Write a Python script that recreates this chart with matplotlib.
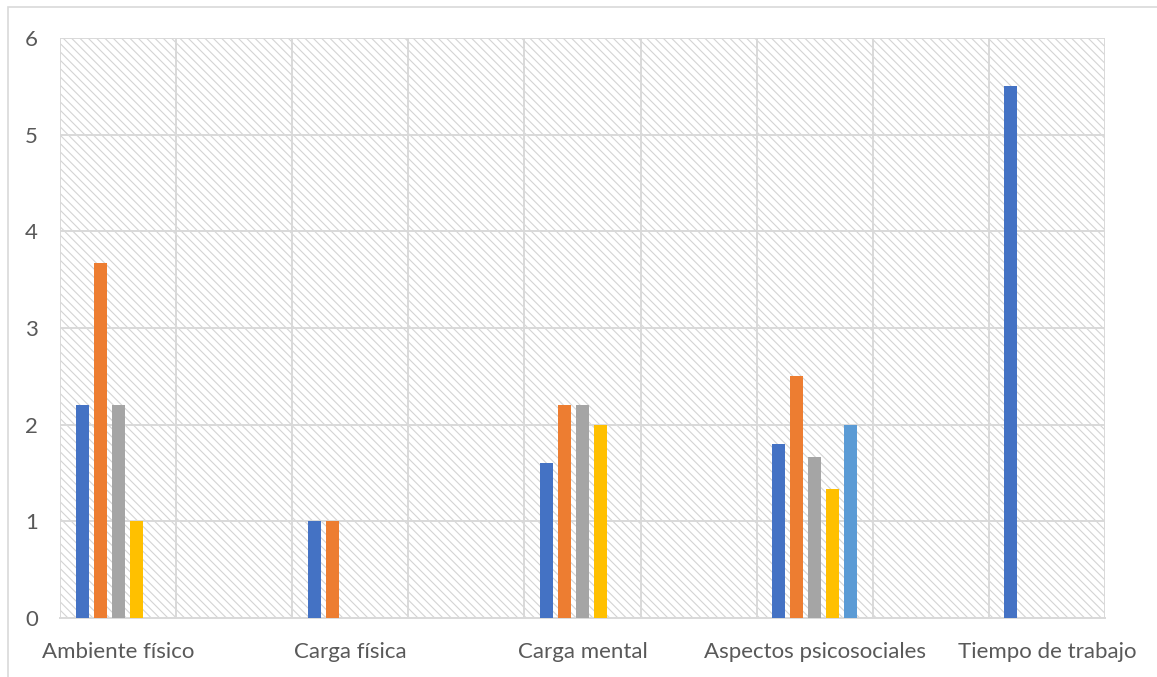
import matplotlib
matplotlib.use("Agg")
import matplotlib.pyplot as plt
from matplotlib.patches import Rectangle
import numpy as np

categories = ["Ambiente físico", "", "Carga física", "", "Carga mental", "",
              "Aspectos psicosociales", "", "Tiempo de trabajo"]
s1 = [2.2, 0, 1.0, 0, 1.6, 0, 1.8, 0, 5.5]
s2 = [3.67, 0, 1.0, 0, 2.2, 0, 2.5, 0, 0]
s3 = [2.2, 0, 0, 0, 2.2, 0, 1.67, 0, 0]
s4 = [1.0, 0, 0, 0, 2.0, 0, 1.33, 0, 0]
s5 = [0, 0, 0, 0, 0, 0, 2.0, 0, 0]
series = [s1, s2, s3, s4, s5]
colors = ["#4472C4", "#ED7D31", "#A5A5A5", "#FFC000", "#5B9BD5"]
yticks = [0, 1, 2, 3, 4, 5, 6]

plt.rcParams['font.family'] = ['Lato', 'DejaVu Sans']
plt.rcParams['hatch.linewidth'] = 0.8

W, H = 1157, 677
fig = plt.figure(figsize=(W/100, H/100), dpi=100)
ax = fig.add_axes([60/W, 1-618/H, (1105-60)/W, (618-38)/H])

# figure border (left and top visible)
fig.patches.append(Rectangle((8/W, -0.2), 1.2, 1.2-7/H, transform=fig.transFigure,
                             fill=False, edgecolor="#d9d9d9", linewidth=1.2))

# hatched plot area
ax.add_patch(Rectangle((0, 0), 1, 1, transform=ax.transAxes, facecolor="white",
                       edgecolor="#d4d4d4", hatch="\\\\\\\\", linewidth=0, zorder=0))

x = np.arange(len(categories))
slot = 18/116
bw = 13/116
for i, (vals, c) in enumerate(zip(series, colors)):
    ax.bar(x + (i-2)*slot, vals, width=bw, color=c, zorder=3)

ax.set_xlim(-0.5, len(categories)-0.5)
ax.set_ylim(0, 6)
ax.set_yticks(yticks)
ax.set_xticks(x)
ax.set_xticklabels(categories)
ax.set_xticks(np.arange(len(categories)+1) - 0.5, minor=True)
ax.grid(False)
ax.yaxis.grid(True, color="#d9d9d9", linewidth=1.4, zorder=1)
ax.xaxis.grid(True, which="minor", color="#d9d9d9", linewidth=1.4, zorder=1)
ax.set_axisbelow(False)
for sp in ax.spines.values():
    sp.set_visible(False)
ax.spines['bottom'].set_visible(True)
ax.spines['bottom'].set_color("#d9d9d9")
ax.spines['bottom'].set_linewidth(1.4)
ax.tick_params(axis='both', which='both', length=0, labelsize=16, labelcolor="#595959")
ax.tick_params(axis='x', pad=17)
ax.tick_params(axis='y', pad=16)

fig.savefig("out.png", dpi=100)
